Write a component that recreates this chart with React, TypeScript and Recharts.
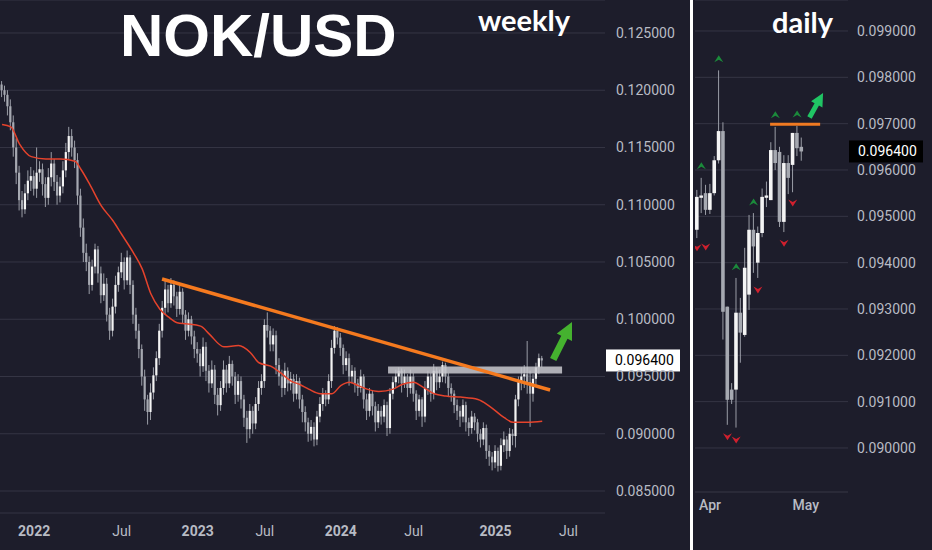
import React from "react";
import {
    ComposedChart,
    Bar,
    Line,
    Scatter,
    XAxis,
    YAxis,
    CartesianGrid,
    ReferenceLine,
    ReferenceDot,
} from "recharts";

// weekly NOK/USD candles, prices x 10 000
const wOpen = [
    1205, 1200, 1196, 1186, 1172, 1150, 1128, 1104, 1096, 1110,
    1121, 1125, 1114, 1128, 1131, 1118, 1106, 1124, 1136, 1120,
    1108, 1116, 1130, 1146, 1160, 1150, 1139, 1108, 1080, 1058,
    1050, 1030, 1046, 1061, 1040, 1021, 1031, 1004, 990, 1011,
    1030, 1041, 1050, 1034, 1054, 1030, 1004, 990, 974, 950,
    930, 919, 936, 951, 966, 990, 1010, 1026, 1014, 1030,
    1020, 1009, 1024, 1004, 990, 1000, 985, 974, 970, 959,
    976, 955, 944, 956, 934, 925, 940, 956, 944, 961,
    950, 934, 946, 930, 914, 904, 920, 909, 926, 940,
    946, 995, 990, 978, 986, 960, 950, 940, 955, 944,
    948, 935, 946, 930, 919, 910, 900, 906, 895, 915,
    926, 935, 930, 946, 975, 990, 984, 975, 960, 966,
    950, 955, 944, 940, 950, 930, 920, 935, 924, 910,
    920, 915, 925, 905, 935, 945, 950, 955, 944, 950,
    940, 950, 935, 920, 930, 915, 940, 950, 935, 955,
    945, 950, 960, 950, 940, 935, 925, 920, 915, 925,
    910, 905, 915, 910, 900, 895, 905, 885, 880, 875,
    885, 872, 890, 895, 885, 900, 898, 930, 945, 950,
    952, 945, 935, 948, 958, 966,
];
const wHigh = [
    1208, 1204, 1200, 1192, 1178, 1158, 1134, 1112, 1118, 1130,
    1133, 1130, 1150, 1138, 1136, 1124, 1132, 1146, 1140, 1126,
    1124, 1138, 1154, 1168, 1166, 1156, 1145, 1114, 1088, 1066,
    1055, 1052, 1066, 1064, 1046, 1040, 1036, 1010, 1018, 1038,
    1046, 1058, 1054, 1060, 1056, 1034, 1010, 996, 978, 956,
    934, 944, 958, 972, 996, 1016, 1034, 1030, 1036, 1034,
    1024, 1030, 1027, 1008, 1006, 1003, 990, 980, 974, 984,
    980, 960, 964, 960, 940, 946, 964, 960, 968, 964,
    954, 952, 950, 934, 920, 926, 924, 932, 946, 952,
    1000, 1006, 994, 992, 990, 966, 956, 962, 958, 954,
    952, 952, 949, 934, 924, 914, 912, 910, 920, 932,
    940, 938, 952, 982, 994, 993, 988, 978, 972, 970,
    960, 958, 948, 956, 952, 935, 940, 938, 928, 926,
    924, 930, 928, 940, 950, 956, 958, 957, 956, 952,
    956, 953, 938, 934, 932, 946, 955, 953, 961, 958,
    956, 963, 962, 953, 944, 938, 930, 924, 930, 928,
    914, 920, 918, 913, 904, 910, 908, 890, 884, 890,
    888, 896, 902, 898, 905, 904, 934, 950, 958, 960,
    981, 955, 952, 962, 970, 968,
];
const wLow = [
    1194, 1190, 1178, 1165, 1142, 1118, 1095, 1089, 1092, 1104,
    1112, 1108, 1106, 1120, 1108, 1098, 1100, 1116, 1112, 1100,
    1102, 1110, 1124, 1140, 1142, 1132, 1100, 1072, 1050, 1042,
    1022, 1025, 1040, 1032, 1014, 1016, 998, 982, 985, 1005,
    1024, 1036, 1026, 1030, 1022, 996, 983, 966, 942, 920,
    908, 912, 930, 946, 960, 984, 1004, 1006, 1010, 1012,
    1002, 1004, 996, 982, 985, 978, 966, 962, 950, 954,
    946, 936, 940, 926, 916, 920, 934, 936, 940, 942,
    926, 928, 922, 906, 892, 896, 900, 904, 920, 934,
    940, 984, 972, 972, 952, 942, 932, 934, 937, 938,
    928, 930, 922, 910, 902, 893, 894, 889, 890, 910,
    920, 924, 926, 940, 970, 978, 968, 952, 955, 942,
    944, 936, 933, 936, 922, 912, 915, 916, 902, 905,
    908, 910, 898, 900, 930, 940, 944, 936, 940, 932,
    935, 928, 912, 915, 906, 910, 934, 928, 930, 938,
    940, 945, 944, 932, 928, 918, 912, 906, 910, 902,
    898, 900, 903, 893, 888, 890, 878, 872, 868, 870,
    867, 868, 884, 878, 880, 890, 888, 924, 938, 940,
    935, 906, 928, 942, 952, 958,
];
const wClose = [
    1200, 1196, 1186, 1172, 1150, 1128, 1104, 1096, 1110, 1121,
    1125, 1114, 1128, 1131, 1118, 1106, 1124, 1136, 1120, 1108,
    1116, 1130, 1146, 1160, 1150, 1139, 1108, 1080, 1058, 1050,
    1030, 1046, 1061, 1040, 1021, 1031, 1004, 990, 1011, 1030,
    1041, 1050, 1034, 1054, 1030, 1004, 990, 974, 950, 930,
    919, 936, 951, 966, 990, 1010, 1026, 1014, 1030, 1020,
    1009, 1024, 1004, 990, 1000, 985, 974, 970, 959, 976,
    955, 944, 956, 934, 925, 940, 956, 944, 961, 950,
    934, 946, 930, 914, 904, 920, 909, 926, 940, 946,
    995, 990, 978, 986, 960, 950, 940, 955, 944, 948,
    935, 946, 930, 919, 910, 900, 906, 895, 915, 926,
    935, 930, 946, 975, 990, 984, 975, 960, 966, 950,
    955, 944, 940, 950, 930, 920, 935, 924, 910, 920,
    915, 925, 905, 935, 945, 950, 955, 944, 950, 940,
    950, 935, 920, 930, 915, 940, 950, 935, 955, 945,
    950, 960, 950, 940, 935, 925, 920, 915, 925, 910,
    905, 915, 910, 900, 895, 905, 885, 880, 875, 885,
    872, 890, 895, 885, 900, 898, 930, 945, 950, 952,
    945, 935, 948, 958, 966, 964,
];

// red moving average, read at some of the weeks (week index / price x 10 000)
const wMaIdx = [
    0, 3, 6, 10, 15, 20, 25, 27, 30, 34, 38, 41, 45, 48, 51, 54, 57, 60, 63, 68,
    71, 76, 81, 85, 88, 92, 95, 99, 102, 105, 109, 113, 116, 119, 122, 125, 129, 134, 137, 141,
    144, 148, 152, 157, 163, 167, 172, 175, 180, 185,
];
const wMaVal = [
    1170, 1168, 1153, 1142, 1140, 1140, 1138, 1131, 1118, 1099, 1086, 1074, 1058, 1044, 1022, 1009, 1002, 997, 996, 994,
    987, 976, 977, 971, 962, 959, 954, 946, 943, 939, 935, 935, 942, 945, 942, 939, 937, 939, 943, 945,
    941, 935, 933, 932, 930, 924, 914, 910, 910, 911,
];

const wTickPos = [11, 41, 67, 90, 116, 141, 169, 194];
const wTickLabels = ["2022", "Jul", "2023", "Jul", "2024", "Jul", "2025", "Jul"];
const wPriceTicks = [0.125, 0.12, 0.115, 0.11, 0.105, 0.1, 0.095, 0.09, 0.085];

// daily candles (27 Mar - 30 Apr 2025), prices x 100 000
const dOpen = [9471, 9540, 9550, 9514, 9550, 9621, 9684, 9305, 9126, 9126, 9292, 9244, 9331, 9471, 9400, 9464, 9540, 9535, 9643, 9639, 9488, 9615, 9611, 9680, 9650];
const dHigh = [9557, 9583, 9568, 9570, 9630, 9815, 9703, 9305, 9140, 9367, 9324, 9432, 9503, 9507, 9478, 9560, 9575, 9660, 9693, 9650, 9632, 9632, 9680, 9695, 9670];
const dLow = [9453, 9507, 9503, 9505, 9545, 9614, 9234, 9050, 9095, 9044, 9184, 9240, 9298, 9378, 9367, 9455, 9520, 9535, 9600, 9477, 9466, 9548, 9552, 9630, 9620];
const dClose = [9542, 9545, 9514, 9550, 9621, 9684, 9294, 9104, 9104, 9292, 9249, 9389, 9471, 9435, 9464, 9542, 9545, 9643, 9615, 9488, 9615, 9583, 9680, 9647, 9640];

// fractal marks on the daily
const dUpIdx = [1, 5, 9, 13, 18, 23];
const dUpVal = [9609, 9840, 9391, 9531, 9719, 9721];
const dDownIdx = [0, 2, 7, 9, 14, 20, 22];
const dDownVal = [9432, 9434, 9024, 9017, 9341, 9442, 9529];

const dTickPos = [3, 25];
const dTickLabels = ["Apr", "May"];
const dPriceTicks = [0.099, 0.098, 0.097, 0.096, 0.095, 0.094, 0.093, 0.092, 0.091, 0.09];

const lastPrice = 0.0964;

const weekly = wClose.map((c, i) => ({
    i,
    o: wOpen[i] / 1e4,
    h: wHigh[i] / 1e4,
    l: wLow[i] / 1e4,
    c: c / 1e4,
}));
const weeklyMa = wMaIdx.map((i, k) => ({ i, ma: wMaVal[k] / 1e4 }));

const daily = dClose.map((c, i) => ({
    i,
    o: dOpen[i] / 1e5,
    h: dHigh[i] / 1e5,
    l: dLow[i] / 1e5,
    c: c / 1e5,
}));
const dUps = dUpIdx.map((i, k) => ({ i, v: dUpVal[k] / 1e5 }));
const dDowns = dDownIdx.map((i, k) => ({ i, v: dDownVal[k] / 1e5 }));

const BG = "#1d1d2b";
const GRID = "#353544";
const TXT = "#b8bbc4";
const FONT = "Roboto, 'Noto Sans', sans-serif";
const TITLE_FONT = "'Liberation Sans', Arial, sans-serif";

const candle = (bodyW: number) => (p: any) => {
    const { x, y, width, height, payload } = p;
    const span = payload.h - payload.l;
    const k = span > 0 ? height / span : 0;
    const cx = x + width / 2;
    const top = y + (payload.h - Math.max(payload.o, payload.c)) * k;
    const bot = y + (payload.h - Math.min(payload.o, payload.c)) * k;
    const up = payload.c >= payload.o;
    return (
        <g>
            <line x1={cx} x2={cx} y1={y} y2={y + height} stroke="#9a9da6" strokeWidth={1} />
            <rect x={cx - bodyW / 2} y={top} width={bodyW} height={Math.max(1, bot - top)} fill={up ? "#f4f4f4" : "#a6a9b1"} />
        </g>
    );
};

const arrow = (len: number, head: number, headW: number, shaft: number, angle: number, fill: string) => (p: any) => {
    const pts = [
        [0, 0], [headW / 2, head], [shaft / 2, head], [shaft / 2, len],
        [-shaft / 2, len], [-shaft / 2, head], [-headW / 2, head],
    ];
    return (
        <polygon
            points={pts.map(([a, b]) => `${a},${b}`).join(" ")}
            transform={`translate(${p.cx},${p.cy}) rotate(${angle})`}
            fill={fill}
        />
    );
};

const upMark = (p: any) => (
    <path d={`M${p.cx - 4.5},${p.cy + 3.5} L${p.cx},${p.cy - 3.5} L${p.cx + 4.5},${p.cy + 3.5} L${p.cx},${p.cy + 1} Z`} fill="#1b8a3b" />
);
const downMark = (p: any) => (
    <path d={`M${p.cx - 4.5},${p.cy - 3.5} L${p.cx},${p.cy + 3.5} L${p.cx + 4.5},${p.cy - 3.5} L${p.cx},${p.cy - 1} Z`} fill="#d0202e" />
);

const priceTag = (bg: string, fg: string) => (p: any) => {
    const vb = p.viewBox || {};
    const x = vb.x + vb.width + 1;
    const y = vb.y;
    return (
        <g>
            <rect x={x} y={y - 11} width={74} height={22} fill={bg} />
            <text x={x + 9} y={y + 5} fill={fg} fontSize={14} fontFamily={FONT}>
                {lastPrice.toFixed(6)}
            </text>
        </g>
    );
};

const WeekTick = (p: any) => {
    const label = wTickLabels[wTickPos.indexOf(p.payload.value)];
    const year = /^\d{4}$/.test(label);
    return (
        <text x={p.x} y={p.y} dy="0.71em" textAnchor="middle" fill={TXT} fontSize={14} fontWeight={year ? 700 : 400} fontFamily={FONT}>
            {label}
        </text>
    );
};

const DayTick = (p: any) => (
    <text x={p.x} y={p.y} dy="0.71em" textAnchor="middle" fill={TXT} fontSize={14} fontWeight={500} fontFamily={FONT}>
        {dTickLabels[dTickPos.indexOf(p.payload.value)]}
    </text>
);

export default function App() {
    return (
        <div style={{ position: "fixed", left: 0, top: 0, width: 932, height: 550, background: BG, overflow: "hidden" }}>
            <style>{`body{margin:0;background:${BG}}`}</style>

            <div style={{ position: "absolute", left: 0, top: 0 }}>
                <ComposedChart width={690} height={550} data={weekly} margin={{ top: 0, right: 0, bottom: 0, left: 0 }}>
                    <CartesianGrid vertical={false} stroke={GRID} />
                    <XAxis
                        dataKey="i"
                        type="number"
                        domain={[-0.7, 206.5]}
                        allowDataOverflow
                        ticks={wTickPos}
                        tick={<WeekTick />}
                        tickLine={false}
                        axisLine={false}
                        tickMargin={7}
                        height={37}
                    />
                    <YAxis
                        orientation="right"
                        domain={[0.08308, 0.12788]}
                        allowDataOverflow
                        ticks={wPriceTicks}
                        tickFormatter={(v: number) => v.toFixed(6)}
                        tick={{ fill: TXT, fontSize: 14, fontFamily: FONT }}
                        tickLine={false}
                        axisLine={false}
                        tickMargin={5}
                        width={85}
                    />
                    <Bar dataKey={(d: any) => [d.l, d.h]} barSize={2} shape={candle(2.2)} isAnimationActive={false} />
                    <Line
                        data={weeklyMa}
                        dataKey="ma"
                        type="monotone"
                        stroke="#e5432c"
                        strokeWidth={1.5}
                        dot={false}
                        activeDot={false}
                        isAnimationActive={false}
                    />
                    <ReferenceLine
                        segment={[{ x: 132.2, y: 0.09557 }, { x: 191.8, y: 0.09557 }]}
                        stroke="#c9c9cf"
                        strokeOpacity={0.85}
                        strokeWidth={7}
                    />
                    <ReferenceLine
                        segment={[{ x: 54.8, y: 0.10352 }, { x: 187.7, y: 0.09382 }]}
                        stroke="#f57a1f"
                        strokeWidth={3.5}
                    />
                    <ReferenceDot x={195.2} y={0.09976} r={1} shape={arrow(42, 17, 17, 7, 26.6, "#45b22f")} />
                    <ReferenceLine y={lastPrice} stroke="none" label={priceTag("#ffffff", "#000000")} />
                </ComposedChart>
            </div>

            <div style={{ position: "absolute", left: 690, top: 0, width: 3, height: 550, background: "#ffffff" }} />

            <div style={{ position: "absolute", left: 695, top: 0 }}>
                <ComposedChart width={237} height={550} data={daily} margin={{ top: 0, right: 0, bottom: 0, left: 0 }}>
                    <CartesianGrid vertical={false} stroke={GRID} />
                    <XAxis
                        dataKey="i"
                        type="number"
                        domain={[-0.46, 34.7]}
                        allowDataOverflow
                        ticks={dTickPos}
                        tick={<DayTick />}
                        tickLine={false}
                        axisLine={{ stroke: "#2c2c3a" }}
                        tickMargin={2}
                        height={58}
                    />
                    <YAxis
                        orientation="right"
                        domain={[0.08905, 0.099669]}
                        allowDataOverflow
                        ticks={dPriceTicks}
                        tickFormatter={(v: number) => v.toFixed(6)}
                        tick={{ fill: TXT, fontSize: 14, fontFamily: FONT }}
                        tickLine={false}
                        axisLine={false}
                        tickMargin={3}
                        width={84}
                    />
                    <Bar dataKey={(d: any) => [d.l, d.h]} barSize={4} shape={candle(3.6)} isAnimationActive={false} />
                    <Scatter data={dUps} dataKey="v" shape={upMark} isAnimationActive={false} />
                    <Scatter data={dDowns} dataKey="v" shape={downMark} isAnimationActive={false} />
                    <ReferenceLine
                        segment={[{ x: 16.8, y: 0.096986 }, { x: 28.3, y: 0.096986 }]}
                        stroke="#f07a22"
                        strokeWidth={3}
                    />
                    <ReferenceDot x={28.97} y={0.097662} r={1} shape={arrow(28, 13, 13, 5, 29, "#20c464")} />
                    <ReferenceLine y={lastPrice} stroke="none" label={priceTag("#000000", "#ffffff")} />
                </ComposedChart>
            </div>

            <svg width={932} height={550} style={{ position: "absolute", left: 0, top: 0, pointerEvents: "none" }}>
                <text x={120} y={56} fill="#ffffff" fontSize={60} fontWeight={700} fontFamily={TITLE_FONT}>
                    NOK/USD
                </text>
                <text x={478} y={31} fill="#ffffff" fontSize={29} fontWeight={700} fontFamily="Lato, 'Open Sans', sans-serif">
                    weekly
                </text>
                <text x={772} y={33} fill="#ffffff" fontSize={29} fontWeight={700} fontFamily="Lato, 'Open Sans', sans-serif">
                    daily
                </text>
            </svg>
        </div>
    );
}
